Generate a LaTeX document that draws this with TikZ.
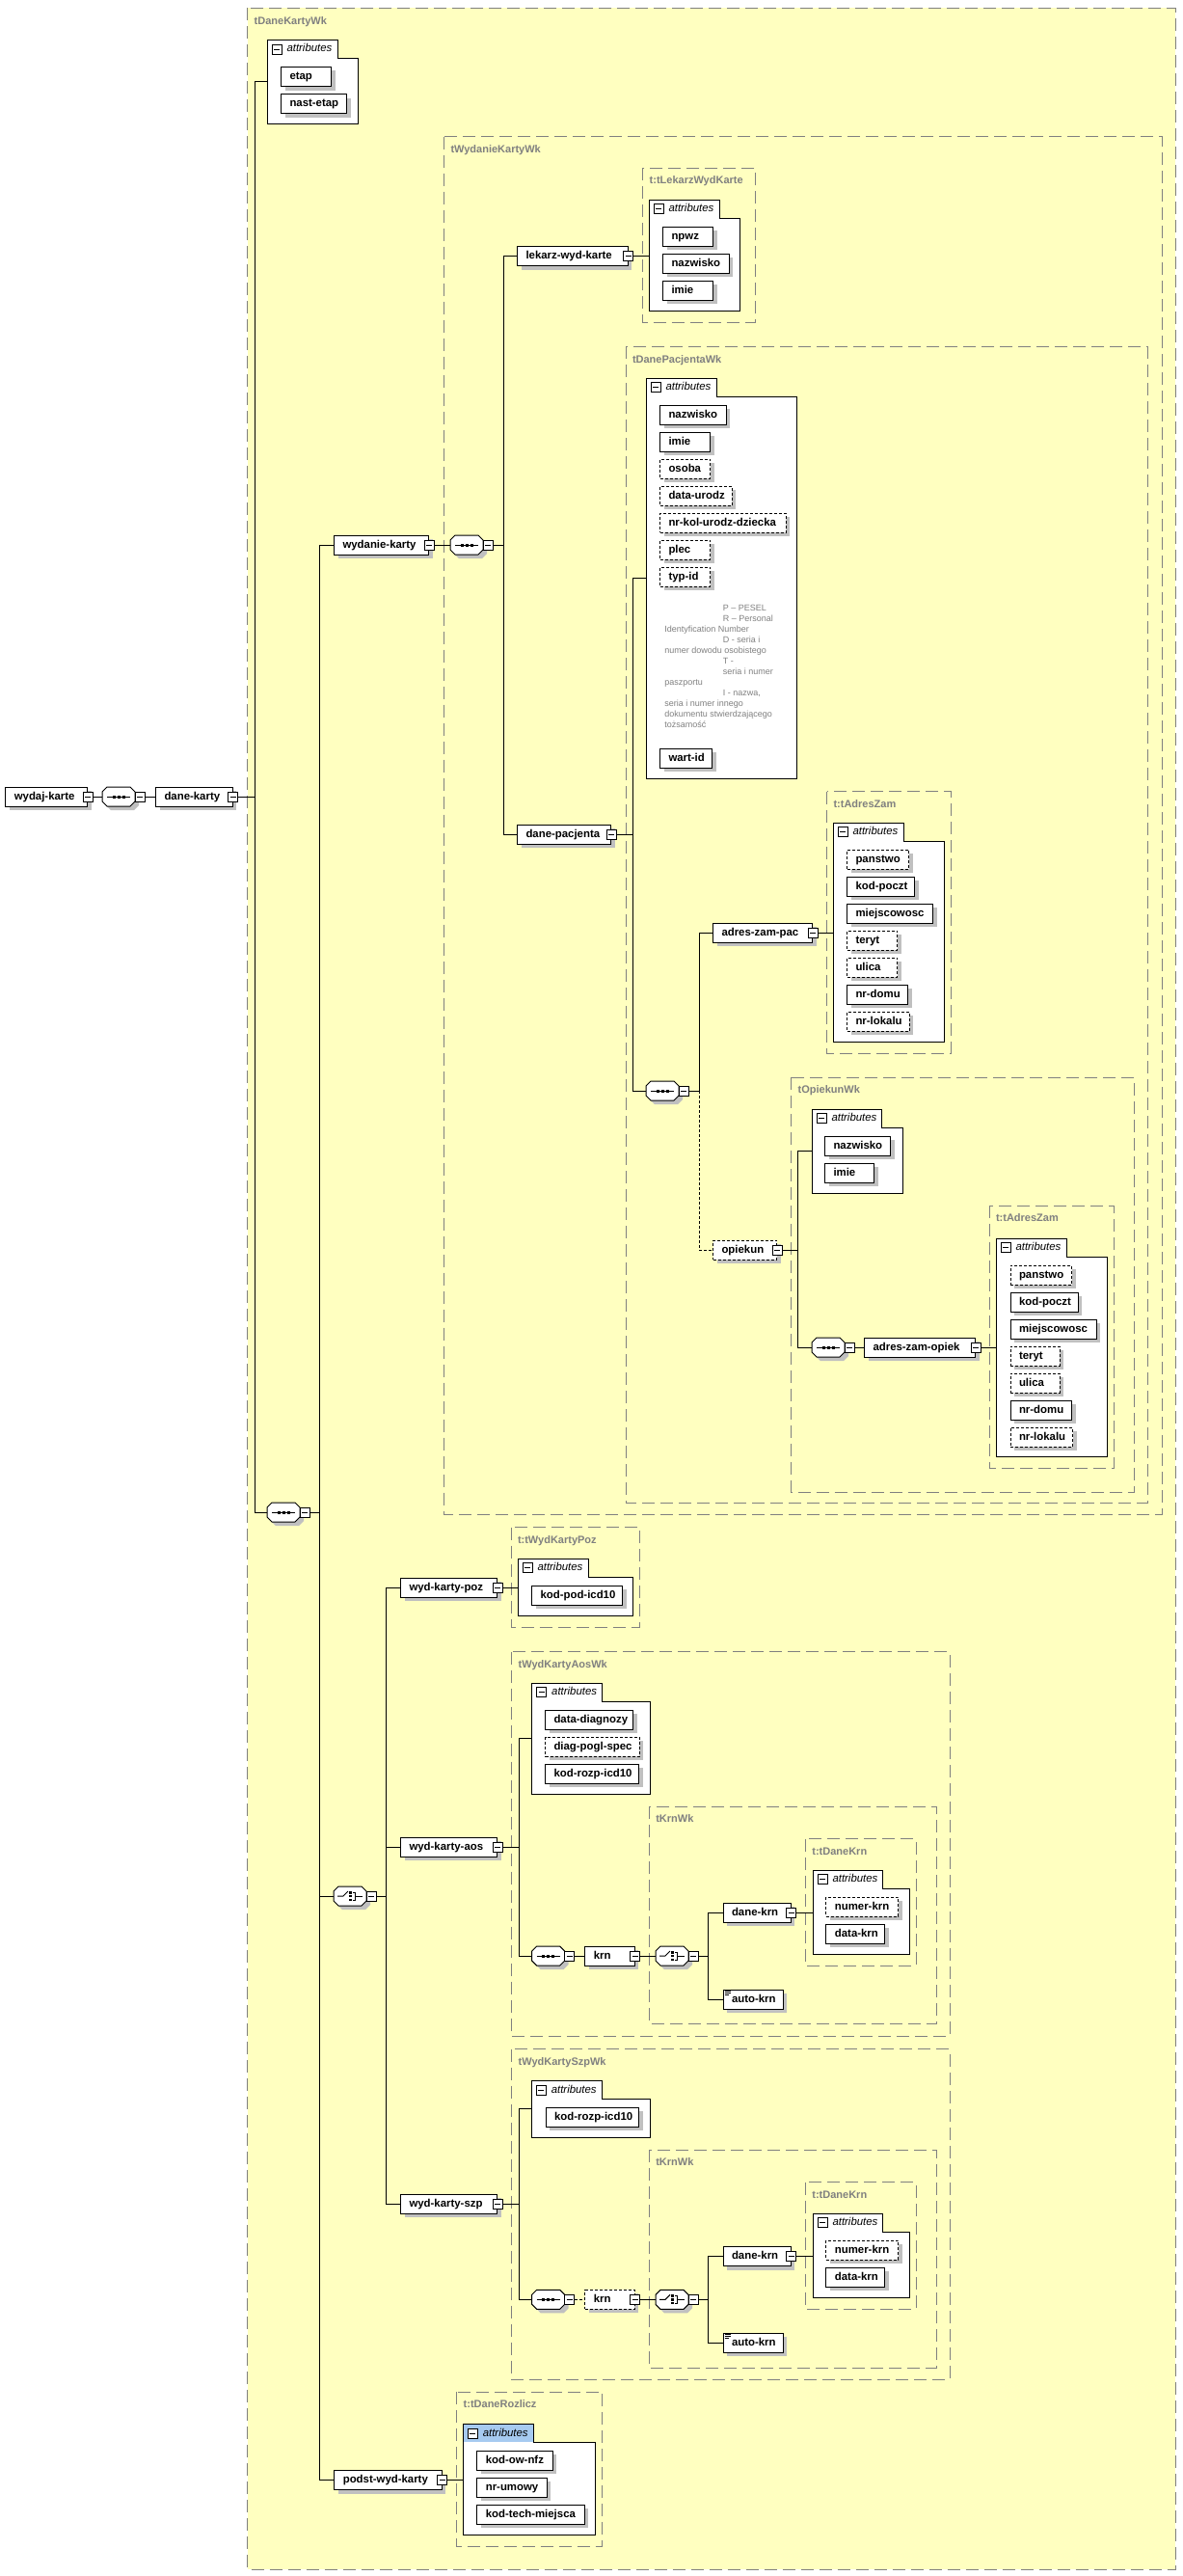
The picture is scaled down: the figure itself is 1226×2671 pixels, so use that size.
\documentclass[tikz,border=0pt]{standalone}
\usepackage{fontspec}
\setmainfont{Liberation Sans}
\usetikzlibrary{shadows}
\definecolor{bgyellow}{HTML}{FFFFC0}
\definecolor{contgray}{HTML}{808080}
\definecolor{shadowgray}{HTML}{C0C0C0}
\definecolor{attrblue}{HTML}{A6CAF0}
\definecolor{labelgray}{HTML}{808080}
\tikzset{
 elbox/.style={draw, fill=white, line width=1pt, minimum height=20pt, inner xsep=9pt, inner ysep=0pt,
   text height=8.5pt, text depth=2.5pt, font=\fontsize{11.4}{13}\selectfont\bfseries,
   drop shadow={shadow xshift=4pt, shadow yshift=-4pt, fill=shadowgray, opacity=1}},
 optional/.style={dash pattern=on 3pt off 2pt},
 minusbox/.style={draw, fill=white, line width=0.8pt, minimum size=10pt, inner sep=0pt,
   path picture={\draw[line width=0.8pt] ([xshift=2pt]path picture bounding box.west) -- ([xshift=-2pt]path picture bounding box.east);}},
 contline/.style={draw=contgray, line width=1pt, dash pattern=on 13pt off 6pt},
 typelabel/.style={text=labelgray, font=\fontsize{11}{13}\selectfont\bfseries, inner sep=0pt, text height=8pt, text depth=2.5pt},
 attrtext/.style={font=\fontsize{11.4}{13}\selectfont\itshape, inner sep=0pt, text height=8pt, text depth=2pt},
 anntext/.style={text=labelgray, font=\fontsize{9}{10}\selectfont, inner sep=0pt, anchor=west, text height=6.5pt, text depth=2pt},
 conn/.style={line width=1pt},
 compnode/.style={minimum width=34pt, minimum height=20pt, inner sep=0pt, anchor=west},
}
% element box: [style]{name}{left x}{center y}{width}{text}
\newcommand\El[6][]{\node[elbox,#1,minimum width=#5pt,anchor=west] (#2) at (#3,#4) {\makebox[\dimexpr #5pt-18pt\relax][l]{#6}};}
\newcommand\Mi[1]{\node[minusbox] (#1m) at (#1.east) {};}
\newcommand\CompBase[3]{%
 \node[compnode] (#1) at (#2,#3) {};
 \fill[shadowgray] ({#2+9},{#3-6}) -- ({#2+33},{#3-6}) -- ({#2+38},{#3-1}) -- ({#2+38},{#3+9}) -- ({#2+33},{#3+14}) -- ({#2+9},{#3+14}) -- ({#2+4},{#3+9}) -- ({#2+4},{#3-1}) -- cycle;
 \draw[line width=1pt, fill=white] ({#2+5},{#3-10}) -- ({#2+29},{#3-10}) -- ({#2+34},{#3-5}) -- ({#2+34},{#3+5}) -- ({#2+29},{#3+10}) -- ({#2+5},{#3+10}) -- ({#2},{#3+5}) -- ({#2},{#3-5}) -- cycle;
 \node[minusbox] (#1m) at ({#2+39},{#3}) {};
}
\newcommand\Seq[3]{\CompBase{#1}{#2}{#3}
 \draw[line width=1pt] ({#2+5},{#3}) -- ({#2+29},{#3});
 \fill ({#2+10.5},{#3-1.5}) rectangle +(3,3);
 \fill ({#2+15.5},{#3-1.5}) rectangle +(3,3);
 \fill ({#2+20.5},{#3-1.5}) rectangle +(3,3);
}
\newcommand\Choice[3]{\CompBase{#1}{#2}{#3}
 \draw[line width=1pt] ({#2+4},{#3}) -- ({#2+10},{#3}) -- ({#2+15},{#3-5});
 \fill ({#2+16},{#3-5}) rectangle +(2.5,2.5);
 \fill ({#2+16},{#3-1.25}) rectangle +(2.5,2.5);
 \fill ({#2+16},{#3+2.5}) rectangle +(2.5,2.5);
 \draw[line width=1pt] ({#2+20},{#3-4}) -- ({#2+22},{#3-4}) -- ({#2+22},{#3+4}) -- ({#2+20},{#3+4});
 \draw[line width=1pt] ({#2+22},{#3}) -- ({#2+30},{#3});
}
% attributes box: [tab fill]{name}{L}{tabTop}{tabR}{bodyTop}{R}{bottom}
\newcommand\Attr[8][white]{%
 \fill[white] (#3,#4) -- (#5,#4) -- (#5,#6) -- (#7,#6) -- (#7,#8) -- (#3,#8) -- cycle;
 \fill[#1] (#3,#4) rectangle (#5,#6);
 \draw[line width=1pt] (#3,#4) -- (#5,#4) -- (#5,#6) -- (#7,#6) -- (#7,#8) -- (#3,#8) -- cycle;
 \node[minusbox] (#2i) at ({#3+10},{(#4+#6)/2}) {};
 \node[attrtext, anchor=west] (#2t) at ({#3+20},{(#4+#6)/2}) {attributes};
 \coordinate (#2) at (#3,{(#4+#8)/2});
}
% container: {name}{L}{T}{R}{B}{label}
\newcommand\Cont[6]{\draw[contline] (#2,#3) rectangle (#4,#5);
 \node[typelabel, anchor=west] (#1) at ({#2+6.5},{#3+14}) {#6};}
\newcommand\TxtIcon[1]{%
 \draw[line width=0.8pt] ([xshift=2pt,yshift=-2pt]#1.north west) -- ++(6,0);
 \draw[line width=0.8pt] ([xshift=2pt,yshift=-4pt]#1.north west) -- ++(6,0);
 \draw[line width=0.8pt] ([xshift=2pt,yshift=-6pt]#1.north west) -- ++(4,0);}

\begin{document}
\begin{tikzpicture}[x=1pt,y=-1pt,line width=1pt]
\useasboundingbox (0,0) rectangle (1226,2671);
\fill[white] (0,0) rectangle (1226,2671);
\fill[bgyellow] (256.7,8.3) rectangle (1219,2664.3);
% containers
\Cont{lDK}{256.7}{8.3}{1219}{2664.3}{tDaneKartyWk}
\Cont{lWK}{460.5}{141.7}{1205}{1570}{tWydanieKartyWk}
\Cont{lLW}{666.7}{174}{783}{334}{t:tLekarzWydKarte}
\Cont{lDP}{649}{359.3}{1190}{1558}{tDanePacjentaWk}
\Cont{lAZ1}{857.5}{820.7}{986}{1092}{t:tAdresZam}
\Cont{lOP}{820.7}{1117}{1176.4}{1547}{tOpiekunWk}
\Cont{lAZ2}{1026}{1250}{1155}{1522}{t:tAdresZam}
\Cont{lWP}{530}{1583.7}{663}{1687}{t:tWydKartyPoz}
\Cont{lWA}{530.7}{1712.7}{985}{2111}{tWydKartyAosWk}
\Cont{lKR1}{673.3}{1873}{971}{2098.7}{tKrnWk}
\Cont{lDK1}{835.4}{1906.7}{950}{2038}{t:tDaneKrn}
\Cont{lWS}{530.7}{2124.7}{985}{2467}{tWydKartySzpWk}
\Cont{lKR2}{673.3}{2229}{971}{2455}{tKrnWk}
\Cont{lDK2}{835.4}{2262.7}{950}{2394}{t:tDaneKrn}
\Cont{lDR}{473.7}{2480}{624.7}{2640}{t:tDaneRozlicz}
% attribute groups
\Attr{A0}{277}{41.7}{350}{60.3}{371}{128}
\Attr{A1}{673}{207}{746}{226}{767}{322}
\Attr{A2}{670}{392}{743}{411}{826}{807}
\Attr{A3}{864}{853}{937}{872}{979}{1080}
\Attr{A4}{842}{1150}{914}{1169}{936}{1237}
\Attr{A5}{1033}{1284}{1106}{1303}{1148}{1510}
\Attr{A6}{537}{1616}{610}{1635}{656}{1675}
\Attr{A7}{551.7}{1745.7}{624}{1764}{674.6}{1860}
\Attr{A8}{843}{1939}{915}{1958}{943.5}{2026}
\Attr{A9}{551.3}{2157.7}{624}{2176.7}{674.6}{2216}
\Attr{A10}{843}{2295.7}{915}{2314}{943.5}{2382}
\Attr[attrblue]{A11}{480.3}{2513.7}{553.3}{2532.3}{617.3}{2628.3}
% attributes
\El{etap}{291}{79.5}{52}{etap}
\El{nastetap}{291}{107.5}{68}{nast-etap}
\El{npwz}{687}{245}{52}{npwz}
\El{lnazw}{687}{273}{68.7}{nazwisko}
\El{limie}{687}{301}{52}{imie}
\El{pnazw}{684}{430}{68.5}{nazwisko}
\El{pimie}{684}{458}{52}{imie}
\El[optional]{posoba}{684}{486}{52}{osoba}
\El[optional]{pdata}{684}{514}{74.6}{data-urodz}
\El[optional]{pnrkol}{684}{542}{130.6}{nr-kol-urodz-dziecka}
\El[optional]{pplec}{684}{570}{52}{plec}
\El[optional]{ptyp}{684}{598}{52}{typ-id}
\El{pwart}{684}{786}{54}{wart-id}
\node[anntext] (n1) at (749.3,631.7) {P – PESEL};
\node[anntext] (n2) at (749.3,642.7) {R – Personal};
\node[anntext] (n3) at (688.9,653.7) {Identyfication Number};
\node[anntext] (n4) at (749.3,664.7) {D - seria i};
\node[anntext] (n5) at (688.9,675.7) {numer dowodu osobistego};
\node[anntext] (n6) at (749.3,686.7) {T -};
\node[anntext] (n7) at (749.3,697.7) {seria i numer};
\node[anntext] (n8) at (688.9,708.7) {paszportu};
\node[anntext] (n9) at (749.3,719.7) {I - nazwa,};
\node[anntext] (n10) at (688.9,730.7) {seria i numer innego};
\node[anntext] (n11) at (688.9,741.7) {dokumentu stwierdzającego};
\node[anntext] (n12) at (688.9,752.7) {tożsamość};
\El[optional]{apan}{878}{891}{64}{panstwo}
\El{akod}{878}{919}{70}{kod-poczt}
\El{amie}{878}{947}{89}{miejscowosc}
\El[optional]{ater}{878}{975}{52}{teryt}
\El[optional]{auli}{878}{1003}{52}{ulica}
\El{adom}{878}{1031}{63}{nr-domu}
\El[optional]{alok}{878}{1059}{64.5}{nr-lokalu}
\El{onazw}{855}{1188}{68}{nazwisko}
\El{oimie}{855}{1216}{51}{imie}
\El[optional]{bpan}{1047.5}{1322}{63.5}{panstwo}
\El{bkod}{1047.5}{1350}{70}{kod-poczt}
\El{bmie}{1047.5}{1378}{89}{miejscowosc}
\El[optional]{bter}{1047.5}{1406}{51}{teryt}
\El[optional]{buli}{1047.5}{1434}{51}{ulica}
\El{bdom}{1047.5}{1462}{63.5}{nr-domu}
\El[optional]{blok}{1047.5}{1490}{64.5}{nr-lokalu}
\El{kpod}{551}{1654}{94}{kod-pod-icd10}
\El{ddiag}{565}{1783.3}{91}{data-diagnozy}
\El[optional]{dpogl}{565}{1811.3}{97.7}{diag-pogl-spec}
\El{drozp}{565}{1839.3}{97}{kod-rozp-icd10}
\El[optional]{nkrn1}{856.4}{1977}{75}{numer-krn}
\El{dkrn1}{856.4}{2005}{61}{data-krn}
\El{srozp}{565.6}{2195}{96.8}{kod-rozp-icd10}
\El[optional]{nkrn2}{856.4}{2333}{75}{numer-krn}
\El{dkrn2}{856.4}{2361}{61}{data-krn}
\El{rnfz}{494.3}{2551.3}{78.4}{kod-ow-nfz}
\El{rumo}{494.3}{2579.3}{72.4}{nr-umowy}
\El{rtech}{494.3}{2607.3}{111.4}{kod-tech-miejsca}
% elements and compositors
\El{wydaj}{5.3}{826}{85}{wydaj-karte}\Mi{wydaj}
\Seq{seq0}{106}{826}
\El{dane}{161}{826}{79.7}{dane-karty}\Mi{dane}
\Seq{seq1}{277}{1568}
\El{wyd}{346}{565}{98}{wydanie-karty}\Mi{wyd}
\Seq{seq2}{467}{565}
\El{lek}{536}{265.7}{114.7}{lekarz-wyd-karte}\Mi{lek}
\El{dpac}{536}{865}{97}{dane-pacjenta}\Mi{dpac}
\Seq{seq3}{670}{1131}
\El{azp}{739}{967}{103}{adres-zam-pac}\Mi{azp}
\El[optional]{opk}{739}{1296}{66}{opiekun}\Mi{opk}
\Seq{seq4}{842}{1397}
\El{azo}{896}{1397}{115}{adres-zam-opiek}\Mi{azo}
\Choice{ch1}{346}{1966}
\El{wkp}{415}{1646}{100}{wyd-karty-poz}\Mi{wkp}
\El{wka}{415}{1915}{100}{wyd-karty-aos}\Mi{wka}
\Seq{seq5}{551.7}{2028}
\El{krn1}{606.4}{2028}{51.4}{krn}\Mi{krn1}
\Choice{ch2}{680}{2028}
\El{dk1}{749.5}{1983}{70}{dane-krn}\Mi{dk1}
\El{ak1}{749.5}{2073}{62}{auto-krn}\TxtIcon{ak1}
\El{wks}{415}{2285}{100}{wyd-karty-szp}\Mi{wks}
\Seq{seq6}{551.7}{2384.3}
\El[optional]{krn2}{606.4}{2384.3}{51.4}{krn}\Mi{krn2}
\Choice{ch3}{680}{2384.3}
\El{dk2}{749.5}{2339.7}{70}{dane-krn}\Mi{dk2}
\El{ak2}{749.5}{2429}{62}{auto-krn}\TxtIcon{ak2}
\El{podst}{346.3}{2571.5}{111.4}{podst-wyd-karty}\Mi{podst}
% connectors
\draw[conn] (wydajm.east) -- (seq0.west);
\draw[conn] (seq0m.east) -- (dane.west);
\draw[conn] (danem.east) -- ++(17.3,0) coordinate (b1);
\draw[conn] (b1) |- (A0);
\draw[conn] (b1) |- (seq1.west);
\draw[conn] (seq1m.east) -- ++(10,0) coordinate (b2);
\draw[conn] (b2) |- (wyd.west);
\draw[conn] (b2) |- (ch1.west);
\draw[conn] (b2) |- (podst.west);
\draw[conn] (wydm.east) -- (seq2.west);
\draw[conn] (seq2m.east) -- ++(11,0) coordinate (b3);
\draw[conn] (b3) |- (lek.west);
\draw[conn] (b3) |- (dpac.west);
\draw[conn] (lekm.east) -- (lekm.east -| A1);
\draw[conn] (dpacm.east) -- ++(17,0) coordinate (b4);
\draw[conn] (b4) |- (A2);
\draw[conn] (b4) |- (seq3.west);
\draw[conn] (seq3m.east) -- ++(10.6,0) coordinate (b5);
\draw[conn] (b5) |- (azp.west);
\draw[conn,optional] (b5) |- (opk.west);
\draw[conn] (azpm.east) -- (azpm.east -| A3);
\draw[conn] (opkm.east) -- ++(16.4,0) coordinate (b6);
\draw[conn] (b6) |- (A4);
\draw[conn] (b6) |- (seq4.west);
\draw[conn] (seq4m.east) -- (azo.west);
\draw[conn] (azom.east) -- (azom.east -| A5);
\draw[conn] (ch1m.east) -- ++(10.5,0) coordinate (b7);
\draw[conn] (b7) |- (wkp.west);
\draw[conn] (b7) |- (wka.west);
\draw[conn] (b7) |- (wks.west);
\draw[conn] (wkpm.east) -- (wkpm.east -| A6);
\draw[conn] (wkam.east) -- ++(16.8,0) coordinate (b8);
\draw[conn] (b8) |- (A7);
\draw[conn] (b8) |- (seq5.west);
\draw[conn] (seq5m.east) -- (krn1.west);
\draw[conn] (krn1m.east) -- (ch2.west);
\draw[conn] (ch2m.east) -- ++(10.4,0) coordinate (b9);
\draw[conn] (b9) |- (dk1.west);
\draw[conn] (b9) |- (ak1.west);
\draw[conn] (dk1m.east) -- (dk1m.east -| A8);
\draw[conn] (wksm.east) -- ++(16.8,0) coordinate (b10);
\draw[conn] (b10) |- (A9);
\draw[conn] (b10) |- (seq6.west);
\draw[conn,optional] (seq6m.east) -- (krn2.west);
\draw[conn] (krn2m.east) -- (ch3.west);
\draw[conn] (ch3m.east) -- ++(10.4,0) coordinate (b11);
\draw[conn] (b11) |- (dk2.west);
\draw[conn] (b11) |- (ak2.west);
\draw[conn] (dk2m.east) -- (dk2m.east -| A10);
\draw[conn] (podstm.east) -- (podstm.east -| A11);
\end{tikzpicture}
\end{document}
